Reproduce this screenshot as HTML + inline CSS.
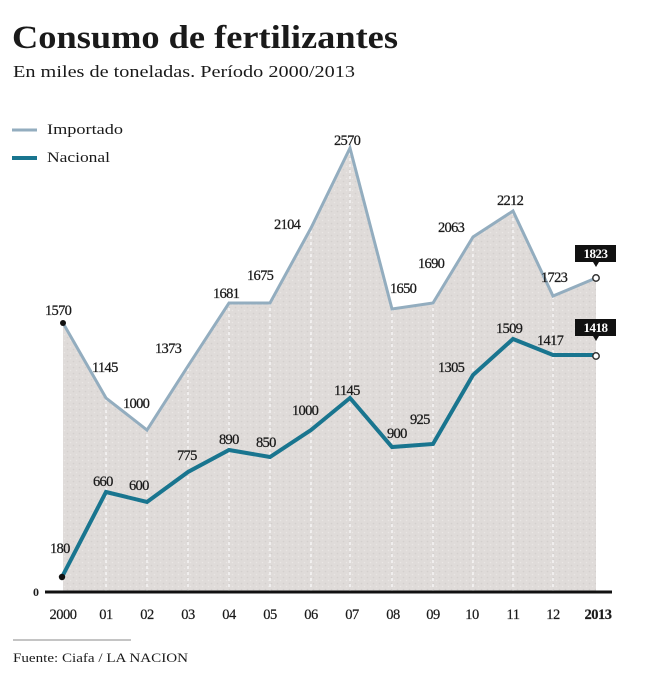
<!DOCTYPE html>
<html><head><meta charset="utf-8"><style>
html,body{margin:0;padding:0;background:#fff;}
svg{display:block;}
text{font-family:"Liberation Serif",serif;fill:#1a1a1a;}
.l{font-size:14.5px;letter-spacing:-0.7px;stroke:#1a1a1a;stroke-width:0.25px;}
.y{font-size:14.5px;letter-spacing:-0.5px;text-anchor:middle;stroke:#1a1a1a;stroke-width:0.2px;}
</style></head><body>
<svg width="645" height="683" viewBox="0 0 645 683" xmlns="http://www.w3.org/2000/svg">
<defs>
<clipPath id="fc"><polygon points="63,323 106,398 147,430 188,366 229,303 270,303 311,228 350,148 392,309 433,303 473,237 513,211 553,296 596,278 596,592 63,592"/></clipPath>
<pattern id="tex" width="6" height="6" patternUnits="userSpaceOnUse">
<rect width="6" height="6" fill="#dfdbd9"/>
<circle cx="1.5" cy="1.5" r="0.8" fill="#d3cfcd"/>
<circle cx="4.5" cy="4.5" r="0.8" fill="#e9e6e4"/>
</pattern>
</defs>
<text x="12" y="48" font-size="33" font-weight="bold" textLength="386" lengthAdjust="spacingAndGlyphs">Consumo de fertilizantes</text>
<text x="13" y="77" font-size="17" textLength="342" lengthAdjust="spacingAndGlyphs">En miles de toneladas. Período 2000/2013</text>
<line x1="12" y1="130" x2="37" y2="130" stroke="#93adbf" stroke-width="3"/>
<text x="47" y="134" font-size="14.5" textLength="76" lengthAdjust="spacingAndGlyphs">Importado</text>
<line x1="12" y1="158" x2="37" y2="158" stroke="#19758f" stroke-width="4"/>
<text x="47" y="162" font-size="14.5" textLength="63" lengthAdjust="spacingAndGlyphs">Nacional</text>
<polygon points="63,323 106,398 147,430 188,366 229,303 270,303 311,228 350,148 392,309 433,303 473,237 513,211 553,296 596,278 596,592 63,592" fill="url(#tex)"/>
<g clip-path="url(#fc)" stroke="#ffffff" stroke-width="1.2" stroke-dasharray="3,3" opacity="0.9">
<line x1="106" y1="140" x2="106" y2="592"/><line x1="147" y1="140" x2="147" y2="592"/><line x1="188" y1="140" x2="188" y2="592"/><line x1="229" y1="140" x2="229" y2="592"/><line x1="270" y1="140" x2="270" y2="592"/><line x1="311" y1="140" x2="311" y2="592"/><line x1="350" y1="140" x2="350" y2="592"/><line x1="392" y1="140" x2="392" y2="592"/><line x1="433" y1="140" x2="433" y2="592"/><line x1="473" y1="140" x2="473" y2="592"/><line x1="513" y1="140" x2="513" y2="592"/><line x1="553" y1="140" x2="553" y2="592"/>
</g>
<polyline points="63,323 106,398 147,430 188,366 229,303 270,303 311,228 350,148 392,309 433,303 473,237 513,211 553,296 596,278" fill="none" stroke="#93adbf" stroke-width="3" stroke-linejoin="miter"/>
<polyline points="62,577 106,492 147,502 188,472 229,450 270,457 311,430 350,398 392,447 433,444 473,375 513,339 553,355 596,355" fill="none" stroke="#19758f" stroke-width="4" stroke-linejoin="miter"/>
<line x1="45" y1="592" x2="612" y2="592" stroke="#111" stroke-width="3"/>
<text x="33" y="596" font-size="12" font-weight="bold">0</text>
<circle cx="63" cy="323" r="3" fill="#111"/>
<circle cx="62" cy="577" r="3.2" fill="#111"/>
<circle cx="596" cy="278" r="3.2" fill="#fff" stroke="#333" stroke-width="1.5"/>
<circle cx="596" cy="356" r="3.2" fill="#fff" stroke="#333" stroke-width="1.5"/>
<g class="l">
<text x="45" y="315">1570</text>
<text x="92" y="372">1145</text>
<text x="123" y="408">1000</text>
<text x="155" y="353">1373</text>
<text x="213" y="298">1681</text>
<text x="247" y="280">1675</text>
<text x="274" y="229">2104</text>
<text x="334" y="145">2570</text>
<text x="390" y="293">1650</text>
<text x="418" y="268">1690</text>
<text x="438" y="232">2063</text>
<text x="497" y="205">2212</text>
<text x="541" y="282">1723</text>
<text x="50" y="553">180</text>
<text x="93" y="486">660</text>
<text x="129" y="490">600</text>
<text x="177" y="460">775</text>
<text x="219" y="444">890</text>
<text x="256" y="447">850</text>
<text x="292" y="415">1000</text>
<text x="334" y="395">1145</text>
<text x="387" y="438">900</text>
<text x="410" y="424">925</text>
<text x="438" y="372">1305</text>
<text x="496" y="333">1509</text>
<text x="537" y="345">1417</text>
</g>
<rect x="575" y="245" width="41" height="17" fill="#111"/>
<polygon points="593,262 599,262 596,267" fill="#111"/>
<text x="595.5" y="258" font-size="13" font-weight="bold" style="fill:#fff" text-anchor="middle" letter-spacing="-0.5">1823</text>
<rect x="575" y="319" width="41" height="17" fill="#111"/>
<polygon points="593,336 599,336 596,341" fill="#111"/>
<text x="595.5" y="332" font-size="13" font-weight="bold" style="fill:#fff" text-anchor="middle" letter-spacing="-0.5">1418</text>
<g class="y">
<text x="63" y="619">2000</text>
<text x="106" y="619">01</text>
<text x="147" y="619">02</text>
<text x="188" y="619">03</text>
<text x="229" y="619">04</text>
<text x="270" y="619">05</text>
<text x="311" y="619">06</text>
<text x="352" y="619">07</text>
<text x="393" y="619">08</text>
<text x="433" y="619">09</text>
<text x="472" y="619">10</text>
<text x="513" y="619">11</text>
<text x="553" y="619">12</text>
<text x="598" y="619" font-weight="bold">2013</text>
</g>
<line x1="13" y1="640" x2="131" y2="640" stroke="#888" stroke-width="1"/>
<text x="13" y="662" font-size="13" textLength="175" lengthAdjust="spacingAndGlyphs">Fuente: Ciafa /  LA NACION</text>
</svg>
</body></html>
